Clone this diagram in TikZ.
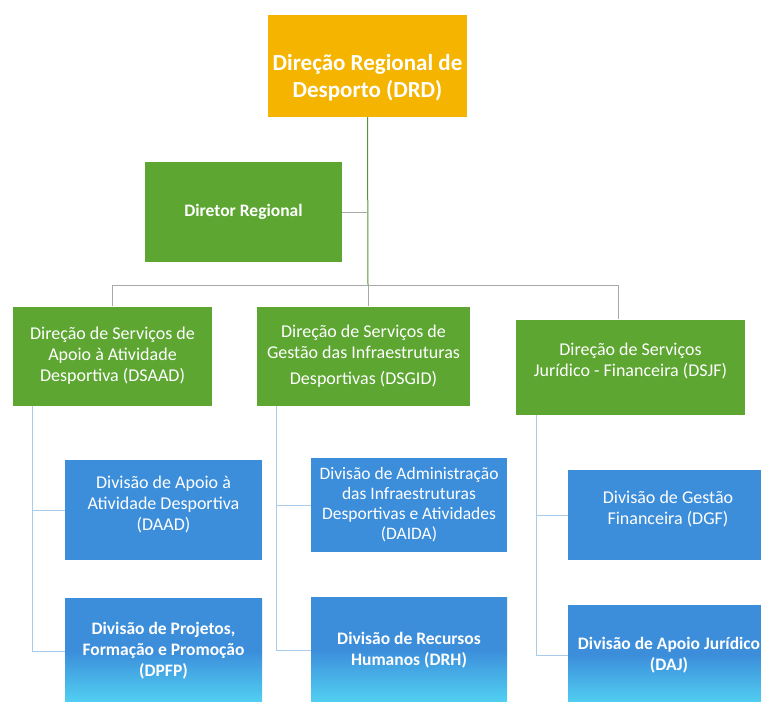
\documentclass[tikz,border=0pt]{standalone}
\usepackage{fontspec}
\setmainfont{Carlito}
\usetikzlibrary{calc,positioning}

\definecolor{drdgold}{HTML}{F4B400}
\definecolor{dirgreen}{HTML}{5DA632}
\definecolor{divblue}{HTML}{3C8EDB}
\definecolor{divcyan}{HTML}{52D2F2}
\definecolor{linkgray}{HTML}{A8A8A8}
\definecolor{linkblue}{HTML}{A9CBEA}

\begin{document}
\begin{tikzpicture}[x=1pt, y=-1pt,
  box/.style args = {#1,#2,#3}{fill=#1, minimum width=#2, minimum height=#3, inner sep=1pt,
    text=white, align=center, font=\fontsize{18}{21}\selectfont},
  divlow/.style args = {#1,#2}{top color=divblue, bottom color=divcyan, middle color=divblue,
    minimum width=#1, minimum height=#2, inner sep=1pt, text=white, align=center,
    font=\fontsize{17.5}{21}\selectfont\bfseries},
  raise/.style = {text depth=#1},
  tree/.style = {line width=1pt, draw=linkgray},
  sub/.style = {line width=1pt, draw=linkblue}]
\useasboundingbox (0,0) rectangle (761,702);

% top level
\node (drd) [box={drdgold,199pt,102pt}, font=\fontsize{23}{27}\selectfont\bfseries] at (367.5,66)
  {\rule{0pt}{40pt}Direção Regional de\\Desporto (DRD)};
\node (dirreg) [box={dirgreen,197pt,100pt}, font=\fontsize{17.5}{21}\selectfont\bfseries] at (243.5,212)
  {Diretor Regional};

% direcoes de servicos
\node (dsaad) [box={dirgreen,199pt,99pt}] at (112.5,356)
  {Direção de Serviços de\\Apoio à Atividade\\Desportiva (DSAAD)};
\node (dsgid) [box={dirgreen,213pt,99pt}] at (363.5,356)
  {Direção de Serviços de\\Gestão das Infraestruturas\\[5pt]Desportivas (DSGID)};
\node (dsjf) [box={dirgreen,229pt,95pt}, raise=14.5pt] at (630.5,367)
  {Direção de Serviços\\Jurídico - Financeira (DSJF)};

% divisoes
\node (daad) [box={divblue,197pt,100pt}, raise=14.5pt] at (163.5,510)
  {Divisão de Apoio à\\Atividade Desportiva\\(DAAD)};
\node (daida) [box={divblue,196pt,94pt}, font=\fontsize{17.5}{20}\selectfont] at (409,505)
  {Divisão de Administração\\das Infraestruturas\\Desportivas e Atividades\\(DAIDA)};
\node (dgf) [box={divblue,200pt,90pt}, raise=14.5pt] at (668,515)
  {Divisão de Gestão\\Financeira (DGF)};
\node (dpfp) [divlow={197pt,106pt}] at (163.5,651)
  {Divisão de Projetos,\\Formação e Promoção\\(DPFP)};
\node (drh) [divlow={196pt,106pt}] at (409,650)
  {Divisão de Recursos\\Humanos (DRH)};
\node (daj) [divlow={202pt,100pt}] at (669,655)
  {Divisão de Apoio Jurídico\\(DAJ)};

% connectors
\coordinate (bus) at (368,285);
\coordinate (busR) at (618,285);
\draw[line width=1pt, draw=dirgreen!90!black] (drd.south) -- (bus);
\draw[tree] (dirreg.east) -- (dirreg.east -| bus);
\draw[tree] (dsaad.north) |- (busR) -- (busR |- dsjf.north);
\draw[tree] (dsgid.north -| bus) -- (bus);

\coordinate (subL) at ($(dsaad.south west)+(20,0)$);
\coordinate (subM) at ($(dsgid.south west)+(20,0)$);
\coordinate (subR) at ($(dsjf.south west)+(21,0)$);
\draw[sub] (subL) |- (dpfp.west);
\draw[sub] (subL |- daad.west) -- (daad.west);
\draw[sub] (subM) |- (drh.west);
\draw[sub] (subM |- daida.west) -- (daida.west);
\draw[sub] (subR) |- (daj.west);
\draw[sub] (subR |- dgf.west) -- (dgf.west);
\end{tikzpicture}
\end{document}
